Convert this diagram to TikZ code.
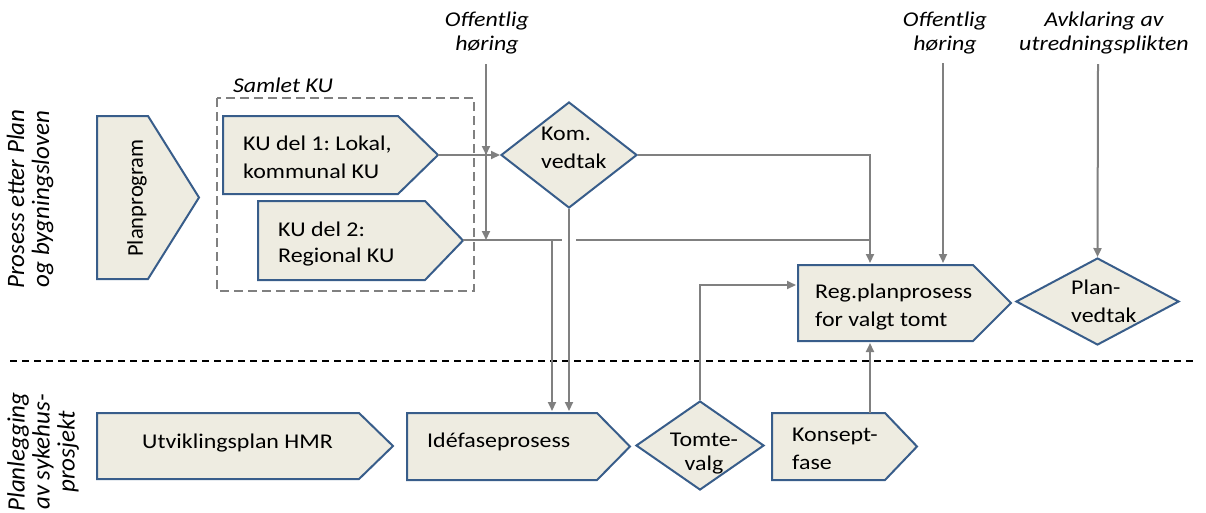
\documentclass[tikz,border=0pt]{standalone}
\usepackage{fontspec}
\setmainfont{Carlito}[FakeStretch=1.14]
\newfontfamily\uprightfont{Carlito}
\usetikzlibrary{arrows.meta,shapes.geometric}

\definecolor{boxfill}{RGB}{238,236,225}
\definecolor{boxline}{RGB}{56,93,138}
\definecolor{linegray}{RGB}{128,128,128}

\tikzset{
  stepbox/.style={fill=boxfill, draw=boxline, line width=2pt},
  choice/.style={diamond, fill=boxfill, draw=boxline, line width=2pt, inner sep=0pt},
  boxtext/.style={font=\fontsize{21}{28}\selectfont, inner sep=0pt, align=left},
  notetext/.style={font=\fontsize{21}{24}\selectfont\itshape, inner sep=0pt, align=center},
  lanetext/.style={font=\uprightfont\fontsize{25}{25}\selectfont\itshape, inner sep=0pt, align=center, rotate=90},
  flowline/.style={draw=linegray, line width=2pt},
  flow/.style={flowline, -{Triangle[length=9pt,width=8pt]}},
}

\begin{document}
\frenchspacing
\begin{tikzpicture}[x=1pt,y=-1pt]
\useasboundingbox (0,0) rectangle (1206,512);

% lanes
\node[lanetext] (lanetop) at (30,199) {Prosess etter Plan\\og bygningsloven};
\node[lanetext] (lanebot) at (43,452) {Planlegging\\av sykehus-\\prosjekt};
\draw[black, line width=1.5pt, dash pattern=on 7pt off 5pt] (10,361) -- (1195,361);

% top lane
\filldraw[stepbox] (97,116) -- (148,116) -- (199,197.5) -- (148,279) -- (97,279) -- cycle;
\node[boxtext, rotate=90, font=\uprightfont\fontsize{22.5}{28}\selectfont] (planprog) at (137,198) {Planprogram};

\draw[draw=linegray, line width=1.5pt, dash pattern=on 9pt off 5pt] (217,98) rectangle (474,291);
\node[notetext] (samlet) at (283,85) {Samlet KU};

\filldraw[stepbox] (223,116) -- (398,116) -- (438,155) -- (398,194) -- (223,194) -- cycle;
\node[boxtext, anchor=west] (ku1) at (243,157) {KU del 1: Lokal,\\kommunal KU};
\coordinate (ku1tip) at (438,155);

\filldraw[stepbox] (258,201) -- (425,201) -- (463,240.5) -- (425,280) -- (258,280) -- cycle;
\node[boxtext, anchor=west, font=\fontsize{21}{26}\selectfont] (ku2) at (278,244) {KU del 2:\\Regional KU};
\coordinate (ku2tip) at (463,240);

\node[choice, minimum width=136pt, minimum height=106pt] (kom) at (569,155) {};
\node[boxtext, anchor=west] (komtxt) at (541,148) {Kom.\\vedtak};

\filldraw[stepbox] (798,265) -- (973,265) -- (1011,303) -- (973,341) -- (798,341) -- cycle;
\node[boxtext, anchor=west] (reg) at (815,307) {Reg.planprosess\\for valgt tomt};

\node[choice, minimum width=163pt, minimum height=87pt] (planvedtak) at (1097.5,301.5) {};
\node[boxtext, anchor=west] (planvtxt) at (1071,301) {Plan-\\vedtak};

\node[notetext] (horing1) at (487,33) {Offentlig\\høring};
\node[notetext] (horing2) at (945,33) {Offentlig\\høring};
\node[notetext] (avklaring) at (1104,33) {Avklaring av\\utredningsplikten};

% bottom lane
\filldraw[stepbox] (97,413) -- (359,413) -- (393,446) -- (359,479) -- (97,479) -- cycle;
\node[boxtext, anchor=west] (utv) at (142,443) {Utviklingsplan HMR};

\filldraw[stepbox] (407,413) -- (597,413) -- (630,446.5) -- (597,480) -- (407,480) -- cycle;
\node[boxtext, anchor=west] (idefase) at (427,442) {Idéfaseprosess};

\node[choice, minimum width=128pt, minimum height=89pt] (tomte) at (700,445.5) {};
\node[boxtext, align=center, font=\fontsize{21}{24}\selectfont] (tomtetxt) at (704,454) {Tomte-\\valg};

\filldraw[stepbox] (772,413) -- (885,413) -- (917,446.5) -- (885,480) -- (772,480) -- cycle;
\node[boxtext, anchor=west] (konsept) at (792,449) {Konsept-\\fase};

% connectors
\coordinate (h1start) at (486,64);
\coordinate (h1ku1) at (486,155);
\coordinate (h1ku2) at (486,240);
\coordinate (gapl) at (562,240);
\coordinate (gapr) at (576,240);
\coordinate (ku2end) at (870,240);
\coordinate (split) at (552,240);
\coordinate (idein1) at (552,411);
\coordinate (idein2) at (569,411);
\coordinate (regtop) at (870,263);
\coordinate (regleft) at (796,285);
\coordinate (regbot) at (870,343);
\coordinate (konstop) at (870,413);
\coordinate (h2start) at (943,63);
\coordinate (h2end) at (943,263);
\coordinate (avkstart) at (1098,64);

\draw[flow] (h1start) -- (h1ku1);
\draw[flow] (h1start) -- (h1ku2);
\draw[flow] (ku1tip) -- (kom.west);
\draw[flow] (kom.east) -| (regtop);
\draw[flowline] (ku2tip) -- (gapl);
\draw[flowline] (gapr) -- (ku2end);
\draw[flow] (split) -- (idein1);
\draw[flow] (kom.south) -- (idein2);
\draw[flow] (tomte.north) |- (regleft);
\draw[flow] (konstop) -- (regbot);
\draw[flow] (h2start) -- (h2end);
\draw[flow] (avkstart) -- (planvedtak.north);
\end{tikzpicture}
\end{document}
